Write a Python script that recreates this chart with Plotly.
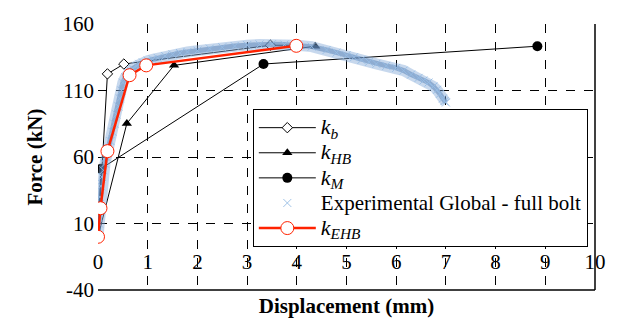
import plotly.graph_objects as go

# ---- data ----
kb_x = [0, 0.19, 0.52, 3.47, 4.0]
kb_y = [0, 122.5, 129.9, 144.0, 144.0]

khb_x = [0, 0.58, 1.53, 4.37]
khb_y = [0, 85.2, 128.9, 143.3]

km_x = [0, 0.06, 3.33, 8.84]
km_y = [0, 51.2, 129.9, 143.3]

exp_x = [0, 0.02, 0.04, 0.06, 0.08, 0.11, 0.14, 0.17, 0.2, 0.25, 0.29, 0.33, 0.37, 0.41, 0.44,
         0.47, 0.5, 0.55, 0.6, 0.65, 0.7, 0.77, 0.83, 0.9, 1.0, 1.1, 1.2, 1.35, 1.5, 1.65, 1.8,
         2.0, 2.25, 2.5, 2.75, 3.0, 3.25, 3.5, 3.75, 4.0, 4.3, 4.6, 4.8, 5.0, 5.15, 5.3, 5.45,
         5.6, 5.8, 6.0, 6.15, 6.3, 6.45, 6.55, 6.65, 6.75, 6.82, 6.88, 6.94, 6.97, 7.0]
exp_y = [0, 10, 30, 38, 45, 50, 55, 60, 66, 72, 79, 85, 92, 98, 104,
         110, 116, 120, 123, 125, 126.5, 128.5, 130, 131.2, 132.5, 133.5, 134.5, 136, 137.2, 138.2, 139,
         140, 141.5, 142.5, 143.4, 144.1, 144.6, 144.8, 144.5, 144, 143, 140.5, 138.5, 136.5, 135, 133, 131.5,
         130, 128.5, 127, 125, 122, 119.5, 117.5, 116, 113, 110.5, 107.5, 104, 102, 101]

kehb_x = [0, 0.05, 0.19, 0.635, 0.97, 3.99]
kehb_y = [0, 21.5, 64.4, 121.5, 128.9, 143.6]

x_ticks = [0, 1, 2, 3, 4, 5, 6, 7, 8, 9, 10]
y_ticks = [-40, 10, 60, 110, 160]

FONT = "Liberation Serif"


def big(t, px=21):
    return "<span style='font-size:%dpx'>%s</span>" % (px, t)


fig = go.Figure()

fig.add_trace(go.Scatter(
    x=kb_x, y=kb_y, mode="lines+markers", name=big("<i>k<sub>b</sub></i>", 22),
    line=dict(color="black", width=1),
    marker=dict(symbol="diamond", size=8, color="white", line=dict(color="black", width=1))))

fig.add_trace(go.Scatter(
    x=khb_x, y=khb_y, mode="lines+markers", name=big("<i>k<sub>HB</sub></i>", 22),
    line=dict(color="black", width=1),
    marker=dict(symbol="triangle-up", size=9, color="black")))

fig.add_trace(go.Scatter(
    x=km_x, y=km_y, mode="lines+markers", name=big("<i>k<sub>M</sub></i>", 22),
    line=dict(color="black", width=1),
    marker=dict(symbol="circle", size=10, color="black")))

# thick translucent band under the experimental crosses
fig.add_trace(go.Scatter(
    x=exp_x, y=exp_y, mode="lines", showlegend=False, hoverinfo="skip",
    line=dict(color="rgba(130,168,215,0.45)", width=11)))
fig.add_trace(go.Scatter(
    x=exp_x, y=exp_y, mode="lines", showlegend=False, hoverinfo="skip",
    line=dict(color="rgba(85,128,182,0.5)", width=5)))

fig.add_trace(go.Scatter(
    x=exp_x, y=exp_y, mode="markers", name=big("Experimental Global - full bolt", 21),
    marker=dict(symbol="x-thin-open", size=8, color="rgba(150,188,228,0.9)",
                line=dict(color="rgba(150,188,228,0.9)", width=1))))

fig.add_trace(go.Scatter(
    x=kehb_x, y=kehb_y, mode="lines+markers", name=big("<i>k<sub>EHB</sub></i>", 22),
    line=dict(color="#ff2200", width=2.5),
    marker=dict(symbol="circle", size=13, color="white", line=dict(color="#ff2200", width=1))))

fig.update_layout(
    width=618, height=325,
    margin=dict(l=98, r=16, t=20, b=33),
    paper_bgcolor="white", plot_bgcolor="white",
    font=dict(family=FONT, size=21, color="black"),
    showlegend=True,
    legend=dict(
        x=0.3115, y=0.68, xanchor="left", yanchor="top",
        bgcolor="white", bordercolor="black", borderwidth=1,
        font=dict(family=FONT, size=17, color="black"),
        tracegroupgap=0, itemwidth=57,
    ),
    xaxis=dict(
        range=[0, 10], tickvals=x_ticks, ticktext=[str(v) for v in x_ticks],
        showgrid=True, gridcolor="black", griddash="dash", gridwidth=1,
        zeroline=False, showline=False, ticks="",
        anchor="free", position=0.16,
        tickfont=dict(family=FONT, size=21, color="black"),
        title=dict(text="<b>Displacement (mm)</b>", font=dict(family=FONT, size=21, color="black"),
                   standoff=24),
    ),
    yaxis=dict(
        range=[-40, 160], tickvals=y_ticks, ticktext=[str(v) for v in y_ticks],
        showgrid=True, gridcolor="black", griddash="dash", gridwidth=1,
        zeroline=False, showline=False, ticks="", ticklabelstandoff=3,
        tickfont=dict(family=FONT, size=21, color="black"),
        title=dict(text="<b>Force (kN)</b>", font=dict(family=FONT, size=21, color="black"),
                   standoff=14),
    ),
)

# solid right and bottom borders
fig.add_shape(type="line", xref="x domain", yref="y domain", x0=1, x1=1, y0=0, y1=1,
              line=dict(color="black", width=1.5))
fig.add_shape(type="line", xref="x domain", yref="y domain", x0=0, x1=1, y0=0, y1=0,
              line=dict(color="black", width=1.5))

fig.write_html("out.html")
